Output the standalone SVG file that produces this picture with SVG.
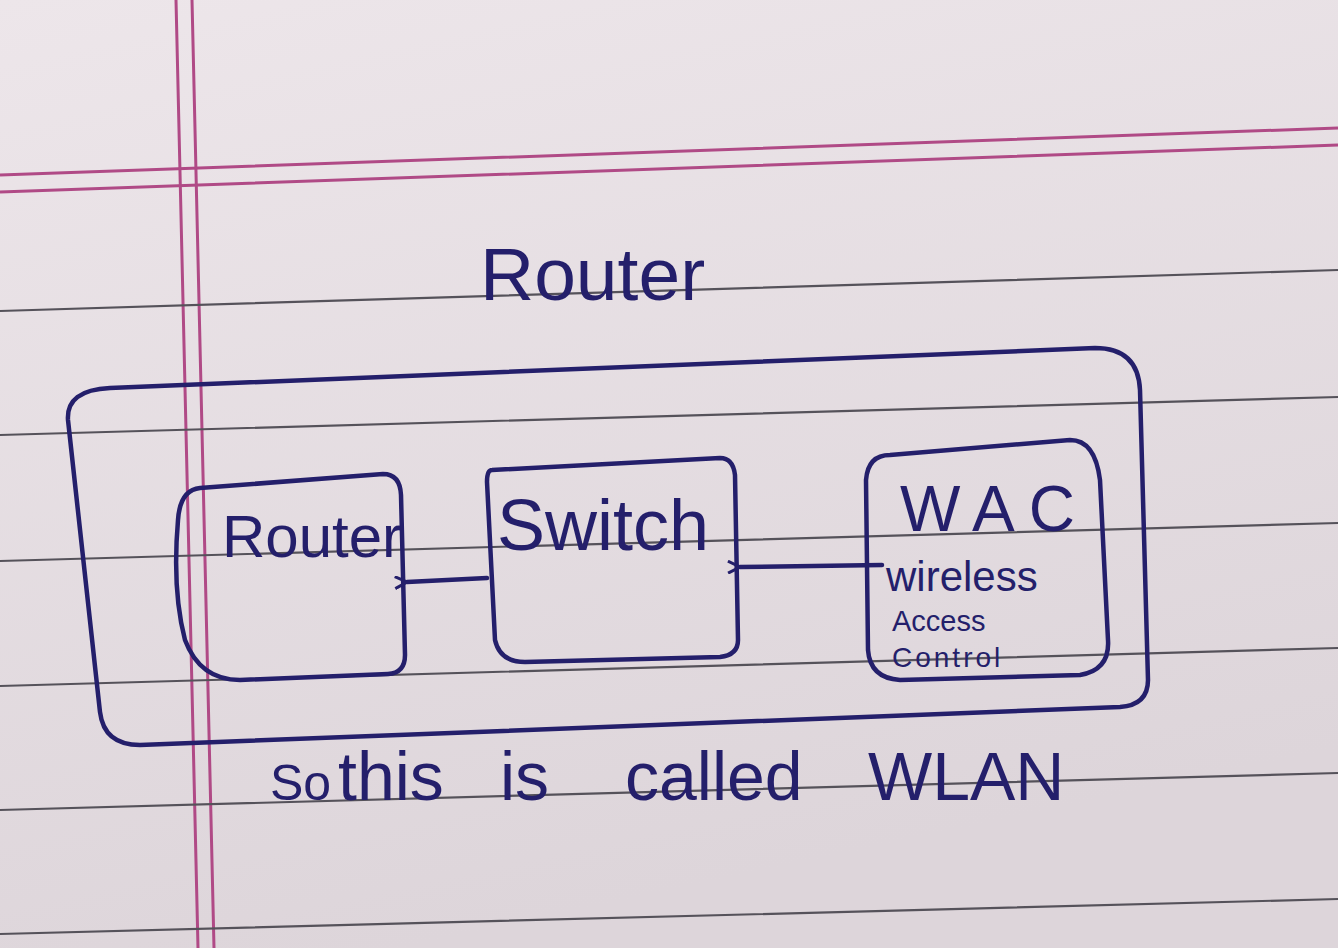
<svg xmlns="http://www.w3.org/2000/svg" width="1338" height="948" viewBox="0 0 1338 948">
<defs>
<linearGradient id="paper" x1="0" y1="0" x2="0.3" y2="1">
<stop offset="0" stop-color="#ede6ea"/>
<stop offset="1" stop-color="#ddd5da"/>
</linearGradient>
<marker id="arr" viewBox="0 0 14 14" refX="1" refY="7" markerWidth="14" markerHeight="14" markerUnits="userSpaceOnUse" orient="auto">
<path d="M13,1 L1,7 L13,13" fill="none" stroke="#241f6b" stroke-width="3"/>
</marker>
</defs>
<style>
.rule{stroke:#55525a;stroke-width:2.2;fill:none}
.pink{stroke:#b04a86;stroke-width:3;fill:none}
.box{fill:none;stroke:#241f6b;stroke-width:4.5;stroke-linejoin:round;stroke-linecap:round}
.ink{fill:#241f6b;font-family:"Liberation Sans","DejaVu Sans",sans-serif}
.conn{stroke:#241f6b;stroke-width:4.5;fill:none;stroke-linecap:round}
</style>
<g id="paper-bg">
<rect x="0" y="0" width="1338" height="948" fill="url(#paper)"/>
<path class="pink" d="M0 175 L1338 128 M0 192 L1338 145"/>
<path class="pink" d="M176 0 L198 948 M192 0 L214 948"/>
<path class="rule" d="M0 311 L1338 270 M0 435 L1338 397 M0 561 L1338 523 M0 686 L1338 648 M0 810 L1338 773 M0 934 L1338 899"/>
</g>
<g id="title">
<text class="ink" x="480" y="300" font-size="75">Router</text>
</g>
<g id="wlan">
<path class="box" d="M110 388 L1095 348 Q1138 348 1140 390 L1148 680 Q1148 705 1120 707 L140 745 Q104 745 100 712 L68 420 Q66 390 110 388 Z"/>
</g>
<g id="router">
<path class="box" d="M200 488 L383 474 Q400 474 401 495 L405 655 Q405 673 388 674 L240 680 Q200 680 185 640 Q172 590 178 520 Q180 490 200 488 Z"/>
<text class="ink" x="222" y="557" font-size="60">Router</text>
</g>
<g id="switch">
<path class="box" d="M492 470 L720 458 Q733 458 735 475 L738 640 Q738 655 720 657 L525 662 Q500 662 495 640 L487 482 Q487 470 492 470 Z"/>
<text class="ink" x="497" y="550" font-size="72">Switch</text>
</g>
<g id="wac">
<path class="box" d="M890 455 L1070 440 Q1095 440 1100 480 L1108 640 Q1110 670 1080 675 L900 680 Q870 678 868 650 L866 480 Q868 455 890 455 Z"/>
<text class="ink" x="900" y="531" font-size="64" letter-spacing="14">WAC</text>
<text class="ink" x="886" y="591" font-size="42">wireless</text>
<text class="ink" x="892" y="631" font-size="29">Access</text>
<text class="ink" x="892" y="667" font-size="28" letter-spacing="3">Control</text>
</g>
<g id="connectors">
<path class="conn" d="M487 578 L407 582" marker-end="url(#arr)"/>
<path class="conn" d="M882 565 L740 567" marker-end="url(#arr)"/>
</g>
<g id="caption">
<text class="ink" y="800" font-size="68"><tspan x="270" font-size="50">So</tspan><tspan x="338">this</tspan><tspan x="500">is</tspan><tspan x="625">called</tspan><tspan x="868">WLAN</tspan></text>
</g>
</svg>
